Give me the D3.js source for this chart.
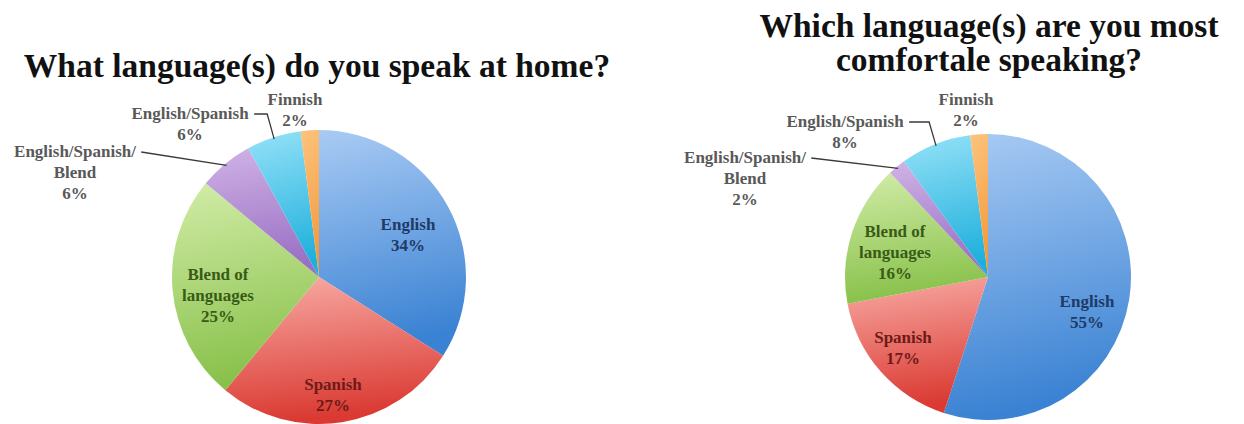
<!DOCTYPE html>
<html>
<head>
<meta charset="utf-8">
<script src="https://cdn.jsdelivr.net/npm/d3@7"></script>
<style>
  html, body { margin: 0; padding: 0; background: #fff; }
  svg { display: block; }
</style>
</head>
<body>
<div id="chart"></div>
<script>
// data
const categories = ["English", "Spanish", "Blend of languages", "English/Spanish/Blend", "English/Spanish", "Finnish"];
const labelLines = [["English"], ["Spanish"], ["Blend of", "languages"], ["English/Spanish/", "Blend"], ["English/Spanish"], ["Finnish"]];
const homeValues = [34, 27, 25, 6, 6, 2];
const comfortValues = [55, 17, 16, 2, 8, 2];
const titleHome = ["What language(s) do you speak at home?"];
const titleComfort = ["Which language(s) are you most", "comfortale speaking?"];

const width = 1244, height = 424;

// slice colours (light top -> dark bottom) and label colours
const colors = [
    { light: "#a9cbf4", dark: "#3a82d3", text: "#1e3a66" },
    { light: "#f8aca6", dark: "#da3a32", text: "#6e1b17" },
    { light: "#d2eca8", dark: "#88c14a", text: "#3a5a17" },
    { light: "#d0b3e6", dark: "#9a70c4", text: "#595959" },
    { light: "#96e2f8", dark: "#1eb0dc", text: "#595959" },
    { light: "#fcc47e", dark: "#f5983a", text: "#595959" }
];

const svg = d3.select("#chart").append("svg")
    .attr("width", width)
    .attr("height", height);

const defs = svg.append("defs");
colors.forEach((c, i) => {
    const g = defs.append("linearGradient")
        .attr("id", "grad" + i)
        .attr("x1", 0).attr("y1", 0)
        .attr("x2", 0.15).attr("y2", 1);
    g.append("stop").attr("offset", "0%").attr("stop-color", c.light);
    g.append("stop").attr("offset", "100%").attr("stop-color", c.dark);
});

const pie = d3.pie().sort(null).value(d => d);

function drawPie(values, cx, cy, r, labelPos, leaders) {
    const g = svg.append("g").attr("transform", `translate(${cx},${cy})`);
    const arc = d3.arc().innerRadius(0).outerRadius(r);
    const edge = d3.arc().innerRadius(r - 2).outerRadius(r - 2);
    const arcs = pie(values);

    g.selectAll("path.slice")
        .data(arcs)
        .enter()
        .append("path")
        .attr("class", "slice")
        .attr("d", arc)
        .attr("fill", (d, i) => `url(#grad${i})`);

    // labels
    const lh = 21;
    const labels = g.selectAll("text.lbl")
        .data(arcs)
        .enter()
        .append("text")
        .attr("class", "lbl")
        .attr("text-anchor", "middle")
        .attr("x", (d, i) => labelPos[i][0])
        .attr("y", (d, i) => labelPos[i][1])
        .style("font-family", "'Liberation Serif', serif")
        .style("font-weight", "bold")
        .style("font-size", "17px")
        .style("fill", (d, i) => colors[i].text);

    labels.each(function(d, i) {
        const lines = labelLines[i].concat([d.data + "%"]);
        d3.select(this).selectAll("tspan")
            .data(lines)
            .enter()
            .append("tspan")
            .attr("x", labelPos[i][0])
            .attr("dy", (t, k) => k ? lh : 0)
            .text(t => t);
    });

    // leader lines for small outside slices
    leaders.forEach(ld => {
        const d = arcs[ld.index];
        const node = labels.nodes()[ld.index];
        const firstSpan = d3.select(node).select("tspan").node();
        const bb = firstSpan.getBBox();
        const end = edge.centroid(d);
        const sx = bb.x + bb.width + 5;
        const sy = labelPos[ld.index][1] - 5;
        let pts;
        if (ld.kind === "elbow") {
            pts = [[sx, sy], [end[0] - 7, sy], [end[0], end[1]]];
        } else {
            pts = [[sx, sy], [end[0], end[1]]];
        }
        g.append("path")
            .attr("d", d3.line()(pts))
            .attr("fill", "none")
            .attr("stroke", "#3a3a3a")
            .attr("stroke-width", 1.3);
    });
}

function drawTitle(lines, cx, y0, lh) {
    svg.append("text")
        .attr("text-anchor", "middle")
        .style("font-family", "'Liberation Serif', serif")
        .style("font-weight", "bold")
        .style("font-size", "33.5px")
        .style("fill", "#111")
        .selectAll("tspan")
        .data(lines)
        .enter()
        .append("tspan")
        .attr("x", cx)
        .attr("y", (d, i) => y0 + i * lh)
        .text(d => d);
}

// label positions relative to pie centre (first baseline)
const homeLabelPos = [[89, -47], [14, 113], [-101, 3], [-244, -120], [-129, -158], [-24, -172]];
const comfortLabelPos = [[99, 30], [-85, 66], [-93, -40], [-243, -114], [-143, -150], [-22, -172]];
const leaders = [{ index: 3, kind: "straight" }, { index: 4, kind: "elbow" }];

drawPie(homeValues, 319, 277, 147, homeLabelPos, leaders);
drawPie(comfortValues, 988, 277, 143, comfortLabelPos, leaders);

drawTitle(titleHome, 317, 77, 34);
drawTitle(titleComfort, 989, 37, 34);
</script>
</body>
</html>
